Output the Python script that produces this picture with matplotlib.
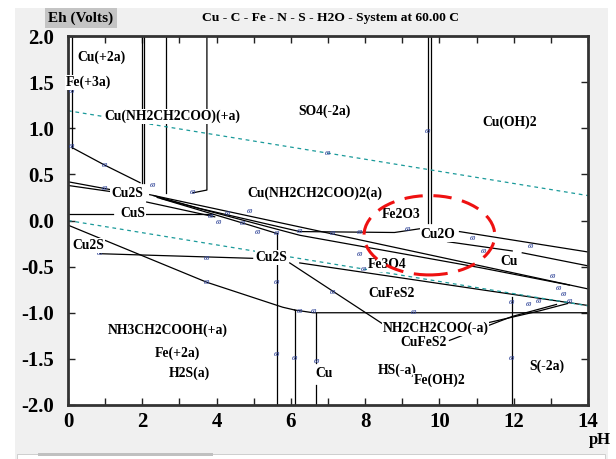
import numpy as np
import matplotlib.pyplot as plt
from matplotlib.patches import Ellipse, Rectangle

plt.rcParams['font.family'] = ['Liberation Serif', 'DejaVu Serif']
plt.rcParams['font.weight'] = 'bold'

# Solid boundary lines, each a list of (pH, Eh)
solid_lines = [
    [(0.11, 2.0), (0.11, 0.79)],
    [(0.11, 0.79), (0.99, 0.60), (1.94, 0.41)],
    [(1.98, 2.0), (1.98, 0.41)],
    [(2.04, 2.0), (2.04, 0.41)],
    [(2.63, 2.0), (2.63, 0.30)],
    [(3.74, 2.0), (3.74, 0.33), (3.36, 0.30)],
    [(0.0, 0.42), (1.21, 0.33)],
    [(0.0, 0.38), (1.21, 0.31)],
    [(2.12, 0.20), (3.95, 0.04)],
    [(0.0, 0.07), (1.21, 0.07)],
    [(2.08, 0.07), (3.90, 0.07)],
    [(2.20, 0.28), (13.98, -0.74)],
    [(2.30, 0.27), (3.55, 0.13), (6.24, -0.12), (8.79, -0.13), (9.46, -0.09)],
    [(2.40, 0.25), (4.89, -0.05), (5.62, -0.14)],
    [(2.50, 0.24), (6.24, -0.16), (11.08, -0.51), (13.5, -0.70)],
    [(9.68, 2.0), (9.68, -0.03)],
    [(9.76, 2.0), (9.76, -0.03)],
    [(10.54, -0.12), (13.98, -0.34)],
    [(10.22, -0.23), (11.96, -0.33)],
    [(12.23, -0.35), (13.98, -0.49)],
    [(0.0, -0.05), (3.74, -0.67), (5.78, -0.94), (6.10, -0.97)],
    [(0.86, -0.36), (4.97, -0.41)],
    [(5.62, -0.14), (5.62, -0.34)],
    [(5.62, -0.46), (5.62, -2.0)],
    [(6.10, -0.97), (6.10, -2.0)],
    [(6.69, -1.0), (6.69, -1.55)],
    [(6.69, -1.78), (6.69, -2.0)],
    [(11.96, -0.83), (11.96, -2.0)],
    [(5.97, -0.46), (8.47, -1.12)],
    [(6.10, -0.97), (6.60, -1.0), (13.98, -1.0)],
    [(6.24, -0.46), (13.98, -0.92)],
    [(11.29, -1.11), (12.69, -0.98), (13.45, -0.90)],
    [(10.27, -1.30), (11.96, -1.04), (13.15, -0.91)],
]

# Water stability lines (dashed)
water_ph = [0.0, 14.0]
water_upper = [1.19, 0.27]
water_lower = [0.0, -0.925]

# Region labels
labels = ["Cu(+2a)", "Fe(+3a)", "Cu(NH2CH2COO)(+a)", "SO4(-2a)", "Cu(OH)2",
          "Cu2S", "CuS", "Cu(NH2CH2COO)2(a)", "Fe2O3", "Cu2O", "Cu2S", "Cu2S",
          "Fe3O4", "Cu", "CuFeS2", "NH3CH2COOH(+a)", "NH2CH2COO(-a)", "CuFeS2",
          "Fe(+2a)", "H2S(a)", "Cu", "HS(-a)", "Fe(OH)2", "S(-2a)"]
label_ph = [0.91, 0.55, 2.80, 6.90, 11.88, 1.59, 1.75, 6.64, 8.98, 9.95, 0.54, 5.48,
            8.60, 11.88, 8.71, 2.69, 9.89, 9.57, 2.96, 3.28, 6.90, 8.87, 10.0, 12.9]
label_eh = [1.77, 1.50, 1.13, 1.18, 1.06, 0.29, 0.08, 0.30, 0.07, -0.15, -0.27, -0.40,
            -0.48, -0.44, -0.79, -1.19, -1.17, -1.32, -1.44, -1.66, -1.66, -1.62, -1.73, -1.58]

# Temperature tags "60" sitting on the lines
tag_ph = [0.11, 0.11, 0.99, 0.99, 2.28, 3.36, 3.84, 4.05, 4.30, 4.89, 4.70, 5.11,
          5.62, 6.24, 7.12, 7.85, 9.15, 7.85, 7.96, 10.90, 11.20, 12.45, 13.05,
          13.23, 13.36, 13.5, 12.69, 12.40, 11.96, 7.12, 5.62, 5.62, 6.10, 6.69,
          11.96, 6.24, 6.63, 9.30, 3.74, 3.74, 0.86, 9.68, 7.0]
tag_eh = [1.40, 0.80, 0.60, 0.35, 0.38, 0.30, 0.04, -0.02, 0.08, 0.10, -0.03, -0.13,
          -0.14, -0.12, -0.14, -0.13, -0.10, -0.37, -0.53, -0.19, -0.34, -0.28, -0.61,
          -0.74, -0.80, -0.88, -0.88, -0.91, -0.89, -0.78, -0.67, -1.45, -1.50,
          -1.53, -1.50, -0.99, -0.99, -1.00, -0.67, -0.41, -0.36, 0.97, 0.73]

fig = plt.figure(figsize=(6.16, 4.59), dpi=100)
fig.patch.set_facecolor('white')
fig.patches.append(Rectangle((15 / 616, 0), 593 / 616, 451 / 459, transform=fig.transFigure,
                             facecolor='#f0f0f0', edgecolor='none', zorder=-10))
fig.patches.append(Rectangle((17 / 616, 0), 588 / 616, 5 / 459, transform=fig.transFigure,
                             facecolor='white', edgecolor='#c8c8c8', lw=0.6, zorder=-9))
fig.patches.append(Rectangle((38 / 616, 3 / 459), 175 / 616, 3 / 459, transform=fig.transFigure,
                             facecolor='#c0c0c0', edgecolor='none', zorder=-8))

ax = fig.add_axes([68 / 616, 54 / 459, 520 / 616, 369 / 459])
ax.set_facecolor('white')

for pts in solid_lines:
    p = np.array(pts)
    ax.plot(p[:, 0], p[:, 1], color='black', lw=0.9, zorder=2)

ax.plot(water_ph, water_upper, color='#1a9a9a', lw=0.9, ls=(0, (3, 3)), zorder=2)
ax.plot(water_ph, water_lower, color='#1a9a9a', lw=0.9, ls=(0, (3, 3)), zorder=2)

for ph, eh in zip(tag_ph, tag_eh):
    ax.text(ph, eh, "60", fontsize=4.5, color='#34489a', ha='center', va='center',
            fontstyle='italic', zorder=3)

for t, ph, eh in zip(labels, label_ph, label_eh):
    ax.text(ph, eh, t, fontsize=9.8, ha='center', va='center', zorder=4,
            bbox=dict(facecolor='white', edgecolor='none', pad=0.5))

ax.add_patch(Ellipse((9.73, -0.16), 3.52, 0.86, fill=False, edgecolor='#ee1111',
                     lw=2.2, ls=(0, (6, 3.5)), zorder=5))

ax.set_xlim(0, 14)
ax.set_ylim(-2.0, 2.0)
ax.set_xticks(np.arange(0, 15, 2))
ax.set_xticks(np.arange(0, 15, 1), minor=True)
ax.set_yticks(np.arange(-2.0, 2.01, 0.5))
ax.set_yticklabels([f"{v:.1f}" for v in np.arange(-2.0, 2.01, 0.5)])
ax.tick_params(which='both', direction='in', top=True, right=True, color='#222222')
ax.tick_params(which='major', length=5, width=1, labelsize=15)
ax.tick_params(which='minor', length=5, width=1)
ax.tick_params(axis='y', pad=10)
ax.tick_params(axis='x', pad=5)
for s in ax.spines.values():
    s.set_linewidth(2)
    s.set_color('#333333')

fig.text(81 / 616, 1 - 18 / 459, "Eh (Volts)", fontsize=11, ha='center', va='center',
         bbox=dict(facecolor='#c4c4c4', edgecolor='none', pad=2.2))
fig.text(330 / 616, 1 - 18 / 459, "Cu - C - Fe - N - S - H2O - System at 60.00 C",
         fontsize=9.7, ha='center', va='center')
fig.text(600 / 616, 1 - 440 / 459, "pH", fontsize=12, ha='center', va='center')

fig.savefig("out.png", dpi=100)
